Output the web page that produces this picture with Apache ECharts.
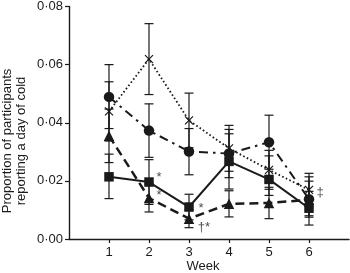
<!DOCTYPE html>
<html>
<head>
<meta charset="utf-8">
<script src="https://cdn.jsdelivr.net/npm/echarts@6/dist/echarts.min.js"></script>
<style>
    html, body {margin: 0; padding: 0; background: #fff;}
    #chart {width: 350px; height: 273px;}
</style>
</head>
<body>
<div id="chart"></div>
<script>
const weeks = [1, 2, 3, 4, 5, 6];
const yTicks = [0, 0.02, 0.04, 0.06, 0.08];

// dash-dot line, circles
const circleVals = [0.0489, 0.0373, 0.0301, 0.0294, 0.0333, 0.0137];
const circleLow = [0.0380, 0.0281, 0.0221, 0.0211, 0.0240, 0.0075];
const circleHigh = [0.0600, 0.0465, 0.0380, 0.0377, 0.0426, 0.0199];

// dotted line, crosses
const crossVals = [0.0439, 0.0619, 0.0408, 0.0312, 0.0238, 0.0169];
const crossLow = [0.0337, 0.0497, 0.0314, 0.0233, 0.0171, 0.0112];
const crossHigh = [0.0541, 0.0741, 0.0502, 0.0391, 0.0305, 0.0226];

// solid line, squares
const squareVals = [0.0214, 0.0196, 0.0110, 0.0267, 0.0205, 0.0106];
const squareLow = [0.0139, 0.0119, 0.0066, 0.0172, 0.0150, 0.0048];
const squareHigh = [0.0292, 0.0273, 0.0154, 0.0362, 0.0286, 0.0164];

// dashed line, triangles
const triVals = [0.0355, 0.0141, 0.0070, 0.0121, 0.0124, 0.0135];
const triLow = [0.0263, 0.0093, 0.0039, 0.0076, 0.0070, 0.0080];
const triHigh = [0.0447, 0.0189, 0.0101, 0.0166, 0.0178, 0.0214];

// significance marks
const markWeeks = [2, 2, 3, 3, 6];
const markVals = [squareVals[1], triVals[1], squareVals[2], triVals[2], crossVals[5]];
const markTexts = ['*', '*', '*', '†*', '‡'];
const markOffsets = [[10, -5], [10, -3], [12, 1], [15, 9], [11, 3]];

const ink = '#1a1a1a';
const font = 'Liberation Sans, Arial, sans-serif';

const chart = echarts.init(document.getElementById('chart'));

function pairs(vals) {
    return weeks.map((w, i) => [w, vals[i]]);
}

function errorSeries(low, high) {
    return {
        type: 'custom',
        z: 1,
        silent: true,
        data: weeks.map((w, i) => [w, low[i], high[i]]),
        renderItem: function (params, api) {
            const lo = api.coord([api.value(0), api.value(1)]);
            const hi = api.coord([api.value(0), api.value(2)]);
            const cap = 4.5;
            const style = {stroke: ink, lineWidth: 1.2};
            return {
                type: 'group',
                children: [
                    {type: 'line', shape: {x1: lo[0], y1: lo[1], x2: hi[0], y2: hi[1]}, style: style},
                    {type: 'line', shape: {x1: lo[0] - cap, y1: lo[1], x2: lo[0] + cap, y2: lo[1]}, style: style},
                    {type: 'line', shape: {x1: hi[0] - cap, y1: hi[1], x2: hi[0] + cap, y2: hi[1]}, style: style}
                ]
            };
        }
    };
}

function lineSeries(vals, symbol, size, lineType, width) {
    return {
        type: 'line',
        z: 3,
        data: pairs(vals),
        symbol: symbol,
        symbolSize: size,
        showSymbol: true,
        itemStyle: {color: ink},
        lineStyle: {color: ink, width: width, type: lineType},
        emphasis: {disabled: true}
    };
}

const crossSeries = lineSeries(crossVals, 'path://M0,0L10,10M10,0L0,10', 8, [1.6, 2.4], 1.8);
crossSeries.itemStyle = {color: 'none', borderColor: ink, borderWidth: 1.2};

const option = {
    animation: false,
    grid: {left: 69, top: 4, right: 1, bottom: 34},
    xAxis: {
        type: 'value',
        min: 0,
        max: 7,
        interval: 1,
        splitLine: {show: false},
        axisLine: {lineStyle: {color: ink, width: 1.4}},
        axisTick: {customValues: weeks, length: 4, lineStyle: {color: ink, width: 1.2}},
        axisLabel: {customValues: weeks, color: ink, fontSize: 13, fontFamily: font, margin: 7}
    },
    yAxis: {
        type: 'value',
        min: yTicks[0],
        max: yTicks[yTicks.length - 1],
        interval: 0.02,
        splitLine: {show: false},
        axisLine: {show: true, lineStyle: {color: ink, width: 1.4}},
        axisTick: {show: true, length: 4, lineStyle: {color: ink, width: 1.2}},
        axisLabel: {
            color: ink, fontSize: 13, fontFamily: font, margin: 6,
            formatter: v => v.toFixed(2).replace('.', '·')
        }
    },
    graphic: [
        {
            type: 'text',
            x: 14, y: 141,
            rotation: Math.PI / 2,
            style: {
                text: 'Proportion of participants\nreporting a day of cold',
                fill: ink, font: '13px ' + font,
                align: 'center', verticalAlign: 'middle', lineHeight: 14
            }
        },
        {
            type: 'text',
            x: 203, y: 266,
            style: {text: 'Week', fill: ink, font: '13px ' + font, align: 'center', verticalAlign: 'middle'}
        }
    ],
    series: [
        errorSeries(circleLow, circleHigh),
        errorSeries(crossLow, crossHigh),
        errorSeries(squareLow, squareHigh),
        errorSeries(triLow, triHigh),
        lineSeries(circleVals, 'circle', 10.5, [9, 5, 2.5, 5], 2),
        crossSeries,
        lineSeries(squareVals, 'rect', 9.5, 'solid', 2),
        lineSeries(triVals, 'triangle', 10.5, [9, 5], 2.5),
        {
            type: 'scatter',
            z: 4,
            symbolSize: 0,
            silent: true,
            data: markWeeks.map((w, i) => ({
                value: [w, markVals[i]],
                label: {formatter: markTexts[i], offset: markOffsets[i]}
            })),
            label: {
                show: true, position: 'inside', color: ink,
                fontSize: 13, fontFamily: font
            }
        }
    ]
};

chart.setOption(option);
</script>
</body>
</html>
